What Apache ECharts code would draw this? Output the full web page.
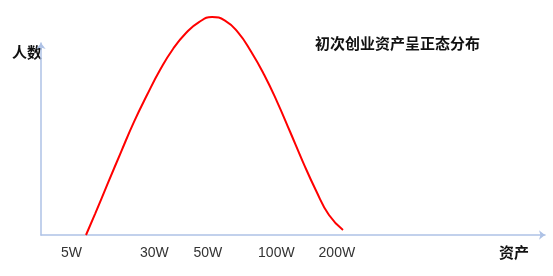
<!DOCTYPE html>
<html>
<head>
<meta charset="utf-8">
<script src="https://cdn.jsdelivr.net/npm/echarts@6/dist/echarts.min.js"></script>
<style>html,body{margin:0;padding:0;background:#fff;}#c{width:553px;height:276px;}</style>
</head>
<body>
<div id="c"></div>
<script>
// Curve samples (x in axis units 0-100, y in axis units 0-100)
const curveX = [8.93, 10.71, 13.29, 15.87, 18.45, 21.03, 23.61, 26.19, 28.77, 31.35, 33.93, 36.51, 39.09, 41.67, 44.25, 46.83, 49.40, 51.98, 54.56, 57.14, 59.92];
const curveY = [0, 10.9, 27.1, 43.2, 58.9, 72.9, 85.9, 96.9, 105.2, 110.9, 113.5, 111.7, 105.5, 95.6, 83.6, 69.5, 53.9, 38.0, 23.2, 10.4, 2.6];
// Tick labels and their positions on the x axis
const tickLabels = ['5W', '30W', '50W', '100W', '200W'];
const tickPositions = [6.05, 22.5, 33.1, 46.7, 58.7];
const titleText = '初次创业资产呈正态分布';
const yName = '人数';
const xName = '资产';

const labelMap = {};
tickPositions.forEach((p, i) => { labelMap[p] = tickLabels[i]; });

const chart = echarts.init(document.getElementById('c'), null, {renderer: 'canvas'});
const axisColor = '#aec2e6';
chart.setOption({
  animation: false,
  grid: {left: 41, right: 8, top: 43, bottom: 41},
  xAxis: {
    type: 'value', min: 0, max: 100,
    axisLine: {show: true, lineStyle: {color: axisColor, width: 1.5}, symbol: ['none', 'arrow'], symbolSize: [7, 6]},
    axisTick: {show: false},
    splitLine: {show: false},
    axisLabel: {
      customValues: tickPositions,
      formatter: v => labelMap[v] || '',
      color: '#333', fontSize: 14, margin: 11,
      fontFamily: 'Liberation Sans, Arial, sans-serif'
    }
  },
  yAxis: {
    type: 'value', min: 0, max: 100,
    axisLine: {show: true, lineStyle: {color: axisColor, width: 1.5}, symbol: ['none', 'arrow'], symbolSize: [7, 6]},
    axisTick: {show: false},
    splitLine: {show: false},
    axisLabel: {show: false}
  },
  graphic: [
    {type: 'text', left: 12, top: 45, style: {text: yName, fontSize: 15, fontWeight: 'bold', fill: '#111', fontFamily: 'Noto Sans CJK SC'}},
    {type: 'text', left: 499, top: 245, style: {text: xName, fontSize: 15, fontWeight: 'bold', fill: '#111', fontFamily: 'Noto Sans CJK SC'}},
    {type: 'text', left: 315, top: 36, style: {text: titleText, fontSize: 15, fontWeight: 'bold', fill: '#111', fontFamily: 'Noto Sans CJK SC'}}
  ],
  series: [{
    type: 'line',
    data: curveX.map((x, i) => [x, curveY[i]]),
    smooth: 0.5,
    clip: false,
    showSymbol: false,
    lineStyle: {color: '#ff0000', width: 2}
  }]
});
</script>
</body>
</html>
